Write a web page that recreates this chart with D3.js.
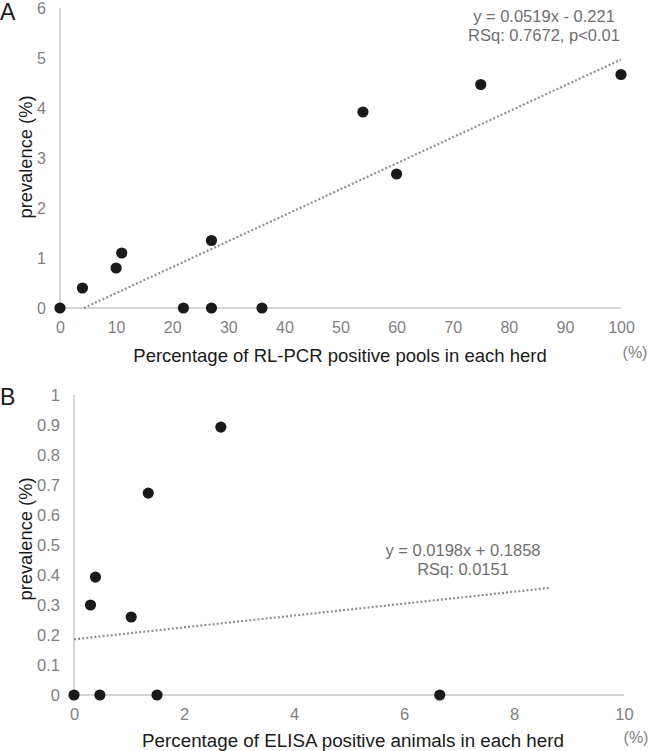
<!DOCTYPE html>
<html><head><meta charset="utf-8">
<script src="https://cdn.jsdelivr.net/npm/d3@7"></script>
<style>body{margin:0;background:#fff;} svg{display:block;font-family:"Liberation Sans",Arial,sans-serif;}</style>
</head><body>
<svg id="c" width="650" height="751"></svg>
<script>
// Panel A data
const aX = [0, 4, 10, 11, 22, 27, 27, 36, 54, 60, 75, 100];
const aY = [0, 0.4, 0.8, 1.1, 0, 0, 1.35, 0, 3.92, 2.68, 4.47, 4.67];
const aXTicks = [0,10,20,30,40,50,60,70,80,90,100];
const aYTicks = [0,1,2,3,4,5,6];
const aSlope = 0.0519, aIntercept = -0.221;
const aEq = ["y = 0.0519x - 0.221", "RSq: 0.7672, p<0.01"];
// Panel B data
const bX = [0, 0.47, 1.51, 6.65, 0.3, 0.39, 1.04, 1.35, 2.67];
const bY = [0, 0, 0, 0, 0.3, 0.393, 0.26, 0.673, 0.893];
const bXTicks = [0,2,4,6,8,10];
const bYTicks = [0,0.1,0.2,0.3,0.4,0.5,0.6,0.7,0.8,0.9,1];
const bSlope = 0.0198, bIntercept = 0.1858, bLineEnd = 8.64;
const bEq = ["y = 0.0198x + 0.1858", "RSq: 0.0151"];

const svg = d3.select("#c");
const tickColor = "#7f7f7f", axisColor = "#c9c9c9";

function panel(cfg){
  const g = svg.append("g");
  const x = d3.scaleLinear().domain(cfg.xDom).range(cfg.xRange);
  const y = d3.scaleLinear().domain(cfg.yDom).range(cfg.yRange);
  g.append("line").attr("x1", x(cfg.xDom[0])).attr("x2", x(cfg.xDom[0]))
    .attr("y1", y(cfg.yDom[0])).attr("y2", y(cfg.yDom[1]))
    .attr("stroke", axisColor).attr("stroke-width", 1.5);
  g.append("line").attr("x1", x(cfg.xDom[0])).attr("x2", x(cfg.xDom[1]))
    .attr("y1", y(cfg.yDom[0])).attr("y2", y(cfg.yDom[0]))
    .attr("stroke", axisColor).attr("stroke-width", 1.5);
  const ya = d3.axisLeft(y).tickValues(cfg.yTicks).tickSize(0).tickPadding(0).tickFormat(d3.format("~g"));
  const yg = g.append("g").attr("transform", `translate(${x(cfg.xDom[0]) - cfg.yLabelGap},0)`).call(ya);
  const xa = d3.axisBottom(x).tickValues(cfg.xTicks).tickSize(0).tickPadding(0).tickFormat(d3.format("~g"));
  const xg = g.append("g").attr("transform", `translate(0,${y(cfg.yDom[0]) + cfg.xLabelGap})`).call(xa);
  [yg, xg].forEach(a => {
    a.select(".domain").remove();
    a.selectAll("text").attr("fill", tickColor).style("font-size", cfg.tickSize + "px").style("font-family", '"Liberation Sans",Arial,sans-serif');
  });
  xg.selectAll("text").attr("dy", "0.32em");
  const x0 = cfg.lineStart, x1 = cfg.lineEnd;
  g.append("line").attr("x1", x(x0)).attr("y1", y(cfg.slope*x0 + cfg.intercept))
    .attr("x2", x(x1)).attr("y2", y(cfg.slope*x1 + cfg.intercept))
    .attr("stroke", "#8f8f8f").attr("stroke-width", 2.2).attr("stroke-dasharray", "2 2.1");
  g.selectAll("circle.pt").data(cfg.xs.map((v,i)=>[v, cfg.ys[i]])).join("circle")
    .attr("class","pt").attr("cx", d=>x(d[0])).attr("cy", d=>y(d[1])).attr("r", 5.6).attr("fill", "#1a1a1a");
  cfg.eq.forEach((t,i)=>{
    g.append("text").attr("x", cfg.eqPos[0]).attr("y", cfg.eqPos[1] + i*cfg.eqGap)
      .attr("text-anchor","middle").attr("fill","#6f6f6f").style("font-size","16.5px").text(t);
  });
  g.append("text").attr("transform", `translate(${cfg.yTitlePos[0]},${cfg.yTitlePos[1]}) rotate(-90)`)
    .attr("text-anchor","middle").attr("fill","#1a1a1a").style("font-size","18.3px").text("prevalence (%)");
  g.append("text").attr("x", cfg.xTitlePos[0]).attr("y", cfg.xTitlePos[1])
    .attr("text-anchor","middle").attr("fill","#1a1a1a").style("font-size", cfg.xTitleSize + "px").text(cfg.xTitle);
  g.append("text").attr("x", cfg.pctPos[0]).attr("y", cfg.pctPos[1])
    .attr("text-anchor","middle").attr("fill",tickColor).style("font-size","16px").text("(%)");
  g.append("text").attr("x", cfg.letterPos[0]).attr("y", cfg.letterPos[1])
    .attr("fill","#1a1a1a").style("font-size","23px").text(cfg.letter);
}

panel({
  xs: aX, ys: aY, xDom:[0,100], yDom:[0,6], xRange:[60,621], yRange:[308,8],
  xTicks: aXTicks, yTicks: aYTicks, yLabelGap: 14, xLabelGap: 20, tickSize: 16,
  slope: aSlope, intercept: aIntercept, lineStart: -aIntercept/aSlope, lineEnd: 100,
  eq: aEq, eqPos:[544, 21.5], eqGap: 19, yTitlePos:[32,157], xTitlePos:[340,362], xTitleSize: 18.5,
  xTitle:"Percentage of RL-PCR positive pools in each herd", pctPos:[635,358],
  letter:"A", letterPos:[0,20]
});
panel({
  xs: bX, ys: bY, xDom:[0,10], yDom:[0,1], xRange:[74,624], yRange:[695,395],
  xTicks: bXTicks, yTicks: bYTicks, yLabelGap: 14, xLabelGap: 20, tickSize: 16.5,
  slope: bSlope, intercept: bIntercept, lineStart: 0, lineEnd: bLineEnd,
  eq: bEq, eqPos:[463, 556], eqGap: 18.5, yTitlePos:[32,539], xTitlePos:[353,747], xTitleSize: 18.8,
  xTitle:"Percentage of ELISA positive animals in each herd", pctPos:[636,743],
  letter:"B", letterPos:[0,405]
});
</script>
</body></html>
